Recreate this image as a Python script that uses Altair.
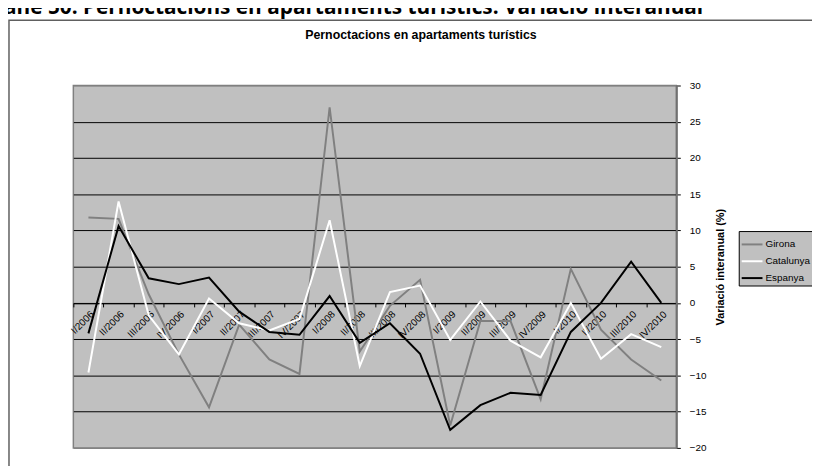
import altair as alt
import pandas as pd

PERIODS = ["I/2006", "II/2006", "III/2006", "IV/2006",
           "I/2007", "II/2007", "III/2007", "IV/2007",
           "I/2008", "II/2008", "III/2008", "IV/2008",
           "I/2009", "II/2009", "III/2009", "IV/2009",
           "I/2010", "II/2010", "III/2010", "IV/2010"]
GIRONA = [11.8, 11.6, 1.2, -7.1, -14.4, -3.0, -7.8, -9.8, 27.0, -6.7,
          -0.4, 3.2, -16.9, -2.5, -2.5, -13.3, 4.7, -3.7, -7.8, -10.7]
CATALUNYA = [-9.6, 14.0, -1.7, -7.1, 0.6, -2.8, -3.8, -2.2, 11.4, -8.7,
             1.5, 2.4, -5.1, 0.2, -5.2, -7.5, 0.0, -7.7, -4.3, -6.1]
ESPANYA = [-4.2, 10.6, 3.4, 2.6, 3.5, -1.2, -4.0, -4.4, 0.95, -5.5,
           -2.8, -7.0, -17.5, -14.1, -12.4, -12.7, -4.0, 0.0, 5.7, 0.0]
SERIES = ["Girona", "Catalunya", "Espanya"]
COLORS = ["#808080", "#ffffff", "#000000"]
Y_TICKS = [-20, -15, -10, -5, 0, 5, 10, 15, 20, 25, 30]
TITLE = "Pernoctacions en apartaments turístics"
HEADER = "ane 50. Pernoctacions en apartaments turístics: Variació interanual"
Y_TITLE = "Variació interanual (%)"

rows = []
for name, vals in zip(SERIES, [GIRONA, CATALUNYA, ESPANYA]):
    for p, v in zip(PERIODS, vals):
        rows.append({"period": p, "value": v, "series": name})
df = pd.DataFrame(rows)

W, H = 609, 366
FONT = "Liberation Sans"

x_enc = alt.X("period:N", sort=PERIODS, bandPosition=0.5,
              scale=alt.Scale(type="band", paddingInner=0, paddingOuter=0),
              axis=alt.Axis(title=None, orient="bottom", offset=-146.4,
                            labelAngle=-45, labelFont=FONT, labelFontSize=10,
                            labelColor="black", tickBand="extent", tickSize=4,
                            tickColor="black", domainColor="black", domainWidth=1,
                            labelPadding=2, grid=False))
y_enc = alt.Y("value:Q",
              scale=alt.Scale(domain=[-20, 30], nice=False, zero=False),
              axis=alt.Axis(orient="right", values=Y_TICKS, title=Y_TITLE,
                            labelFont=FONT, labelFontSize=10, labelColor="black",
                            labelAlign="left", labelPadding=9,
                            tickSize=4, tickColor="black",
                            domainColor="#707070", domainWidth=2,
                            grid=True,
                            gridColor=alt.condition("datum.value == 30 || datum.value == -20",
                                                    alt.value("#808080"), alt.value("black")),
                            gridWidth=1,
                            titleFont=FONT, titleFontSize=11, titleFontWeight="bold",
                            titleColor="black", titleAngle=270,
                            titleAlign="center", titleBaseline="middle",
                            titleX=45, titleY=183))
color_enc = alt.Color("series:N",
                      scale=alt.Scale(domain=SERIES, range=COLORS),
                      legend=alt.Legend(title=None, orient="none",
                                        legendX=672, legendY=147,
                                        fillColor="#c0c0c0", strokeColor="black",
                                        padding=2, symbolType="stroke",
                                        symbolSize=441, symbolStrokeWidth=2,
                                        labelFont=FONT, labelFontSize=10,
                                        labelColor="black", labelOffset=2,
                                        rowPadding=0))

layers = []
for name in SERIES:
    layers.append(
        alt.Chart(df).transform_filter(alt.datum.series == name)
        .mark_line(strokeWidth=2)
        .encode(x=x_enc, y=y_enc, color=color_enc)
    )

tdf = pd.DataFrame({"t": [TITLE], "h": [HEADER]})
frame = alt.Chart(tdf).mark_rect(fill=None, stroke="#606060", strokeWidth=1.5).encode(
    x=alt.value(-65), x2=alt.value(800), y=alt.value(-66), y2=alt.value(420))
title = alt.Chart(tdf).mark_text(font=FONT, fontSize=12.5, fontWeight="bold",
                                 color="black", align="center", baseline="middle").encode(
    x=alt.value(351), y=alt.value(-51), text="t:N")
header = alt.Chart(tdf).mark_text(font="Open Sans", fontSize=21, fontWeight="bold",
                                  color="black", align="left", baseline="alphabetic").encode(
    x=alt.value(-70), y=alt.value(-72), text="h:N")

chart = alt.layer(frame, title, header, *layers).properties(
    width=W, height=H,
    background="white",
    autosize=alt.AutoSizeParams(type="none"),
    padding={"left": 66, "top": 76, "right": 137, "bottom": 16},
).configure_view(fill="#c0c0c0", stroke="#808080", strokeWidth=1.5)

chart.save("out.html", embed_options={"renderer": "svg", "actions": False})
